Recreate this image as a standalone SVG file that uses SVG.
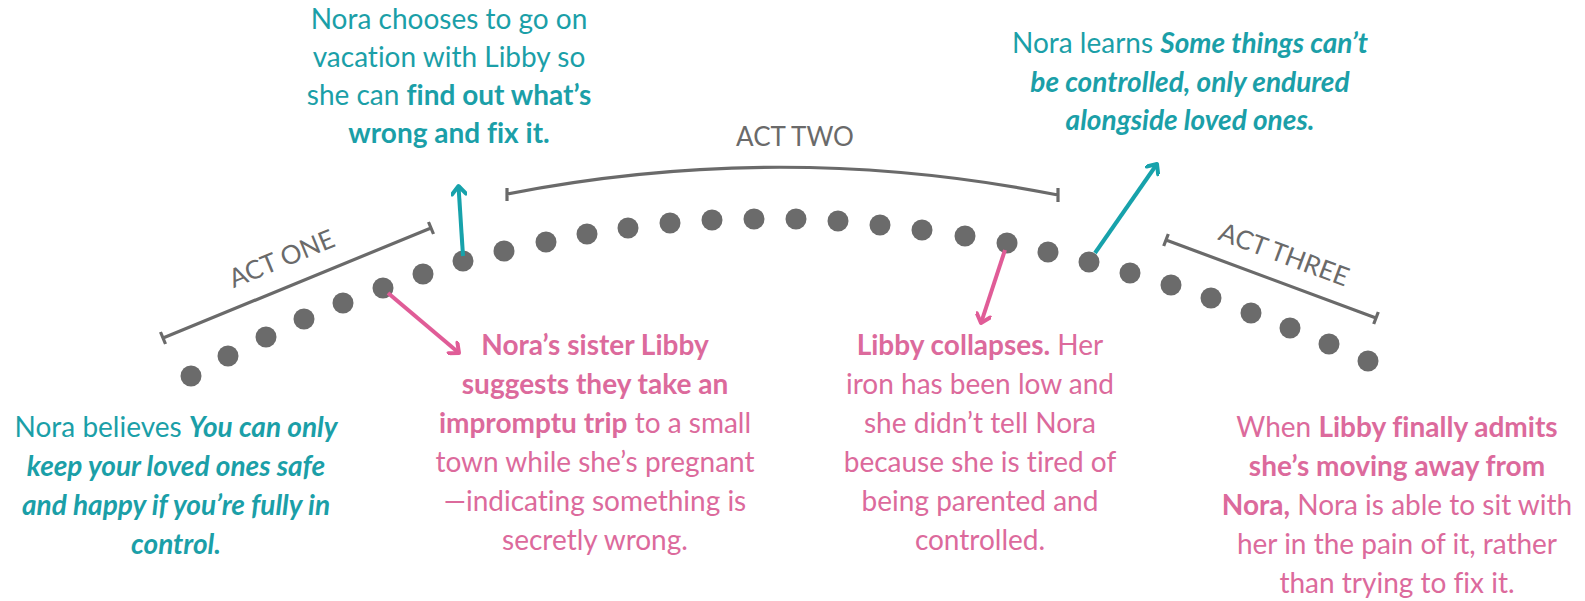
<svg xmlns="http://www.w3.org/2000/svg" width="1585" height="601" viewBox="0 0 1585 601">
<style>
.t{font-family:Lato,"Open Sans","Liberation Sans",sans-serif;font-size:28px;text-anchor:middle;font-variant-ligatures:none}
.teal{fill:#1b9fa8}
.pink{fill:#dc6a9c}
.b{font-weight:700}
.bi{font-weight:700;font-style:italic}
.act{font-family:Lato,"Open Sans","Liberation Sans",sans-serif;font-size:26px;font-weight:400;fill:#6a6a6a;text-anchor:middle}
.br{fill:none;stroke:#6a6a6a;stroke-width:3.2;stroke-linecap:butt}
.dot{fill:#6b6b6b}
.at{fill:none;stroke:#17a2ab;stroke-width:4}
.ap{fill:none;stroke:#e05c97;stroke-width:4}
</style>
<defs>
<marker id="mt" viewBox="0 0 16 16" refX="12" refY="8" markerWidth="16" markerHeight="16" orient="auto" markerUnits="userSpaceOnUse">
<path d="M4,1 L12,8 L4,15" fill="none" stroke="#17a2ab" stroke-width="4" stroke-linecap="round" stroke-linejoin="round"/>
</marker>
<marker id="mp" viewBox="0 0 16 16" refX="12" refY="8" markerWidth="16" markerHeight="16" orient="auto" markerUnits="userSpaceOnUse">
<path d="M4,1 L12,8 L4,15" fill="none" stroke="#e05c97" stroke-width="4" stroke-linecap="round" stroke-linejoin="round"/>
</marker>
</defs>

<g id="acts">
<g id="act-one">
<path class="br" d="M163,338 L431,228 M160.5,332 L165.5,344 M428.5,222 L433.5,234"/>
<text class="act" transform="translate(285,267) rotate(-22.3)">ACT ONE</text>
</g>
<g id="act-two">
<path class="br" d="M507,194 Q782,140 1058,195 M507,188 L507,201 M1058,188 L1058,202"/>
<text class="act" x="795" y="146">ACT TWO</text>
</g>
<g id="act-three">
<path class="br" d="M1166,240 L1376,318 M1168.3,234 L1163.7,246 M1378.3,312 L1373.7,324"/>
<text class="act" transform="translate(1281,263) rotate(20.4)">ACT THREE</text>
</g>
</g>

<g id="timeline">
<circle class="dot" cx="191" cy="376" r="10.5"/>
<circle class="dot" cx="228" cy="356" r="10.5"/>
<circle class="dot" cx="266" cy="337" r="10.5"/>
<circle class="dot" cx="304" cy="319" r="10.5"/>
<circle class="dot" cx="343" cy="303" r="10.5"/>
<circle class="dot" cx="383" cy="288" r="10.5"/>
<circle class="dot" cx="423" cy="274" r="10.5"/>
<circle class="dot" cx="463" cy="261" r="10.5"/>
<circle class="dot" cx="504" cy="251" r="10.5"/>
<circle class="dot" cx="546" cy="242" r="10.5"/>
<circle class="dot" cx="587" cy="234" r="10.5"/>
<circle class="dot" cx="628" cy="228" r="10.5"/>
<circle class="dot" cx="670" cy="223" r="10.5"/>
<circle class="dot" cx="712" cy="220" r="10.5"/>
<circle class="dot" cx="754" cy="219" r="10.5"/>
<circle class="dot" cx="796" cy="219" r="10.5"/>
<circle class="dot" cx="838" cy="221" r="10.5"/>
<circle class="dot" cx="880" cy="225" r="10.5"/>
<circle class="dot" cx="922" cy="230" r="10.5"/>
<circle class="dot" cx="965" cy="236" r="10.5"/>
<circle class="dot" cx="1007" cy="243" r="10.5"/>
<circle class="dot" cx="1048" cy="252" r="10.5"/>
<circle class="dot" cx="1089" cy="262" r="10.5"/>
<circle class="dot" cx="1130" cy="273" r="10.5"/>
<circle class="dot" cx="1171" cy="285" r="10.5"/>
<circle class="dot" cx="1211" cy="298" r="10.5"/>
<circle class="dot" cx="1251" cy="313" r="10.5"/>
<circle class="dot" cx="1290" cy="328" r="10.5"/>
<circle class="dot" cx="1329" cy="344" r="10.5"/>
<circle class="dot" cx="1368" cy="361" r="10.5"/>
</g>

<g id="connectors">
<path class="at" d="M463,256 L458.5,186" marker-end="url(#mt)"/>
<path class="ap" d="M388,293 L459,353" marker-end="url(#mp)"/>
<path class="ap" d="M1005,250 L981,323" marker-end="url(#mp)"/>
<path class="at" d="M1095,253 L1157,164" marker-end="url(#mt)"/>
</g>

<g id="note-belief">
<text class="t teal" x="176" y="437">Nora believes <tspan class="bi">You can only</tspan></text>
<text class="t teal bi" x="176" y="476">keep your loved ones safe</text>
<text class="t teal bi" x="176" y="515">and happy if you’re fully in</text>
<text class="t teal bi" x="176" y="554">control.</text>
</g>

<g id="note-choice">
<text class="t teal" x="449" y="29">Nora chooses to go on</text>
<text class="t teal" x="449" y="67">vacation with Libby so</text>
<text class="t teal" x="449" y="105">she can <tspan class="b">find out what’s</tspan></text>
<text class="t teal b" x="449" y="143">wrong and fix it.</text>
</g>

<g id="note-trip">
<text class="t pink b" x="595" y="355">Nora’s sister Libby</text>
<text class="t pink b" x="595" y="394">suggests they take an</text>
<text class="t pink" x="595" y="433"><tspan class="b">impromptu trip</tspan> to a small</text>
<text class="t pink" x="595" y="472">town while she’s pregnant</text>
<text class="t pink" x="595" y="511">—indicating something is</text>
<text class="t pink" x="595" y="550">secretly wrong.</text>
</g>

<g id="note-collapse">
<text class="t pink" x="980" y="355"><tspan class="b">Libby collapses.</tspan> Her</text>
<text class="t pink" x="980" y="394">iron has been low and</text>
<text class="t pink" x="980" y="433">she didn’t tell Nora</text>
<text class="t pink" x="980" y="472">because she is tired of</text>
<text class="t pink" x="980" y="511">being parented and</text>
<text class="t pink" x="980" y="550">controlled.</text>
</g>

<g id="note-learns">
<text class="t teal" x="1190" y="53">Nora learns <tspan class="bi">Some things can’t</tspan></text>
<text class="t teal bi" x="1190" y="92">be controlled, only endured</text>
<text class="t teal bi" x="1190" y="130">alongside loved ones.</text>
</g>

<g id="note-admits">
<text class="t pink" x="1397" y="437">When <tspan class="b">Libby finally admits</tspan></text>
<text class="t pink b" x="1397" y="476">she’s moving away from</text>
<text class="t pink" x="1397" y="515"><tspan class="b">Nora,</tspan> Nora is able to sit with</text>
<text class="t pink" x="1397" y="554">her in the pain of it, rather</text>
<text class="t pink" x="1397" y="593">than trying to fix it.</text>
</g>
</svg>
